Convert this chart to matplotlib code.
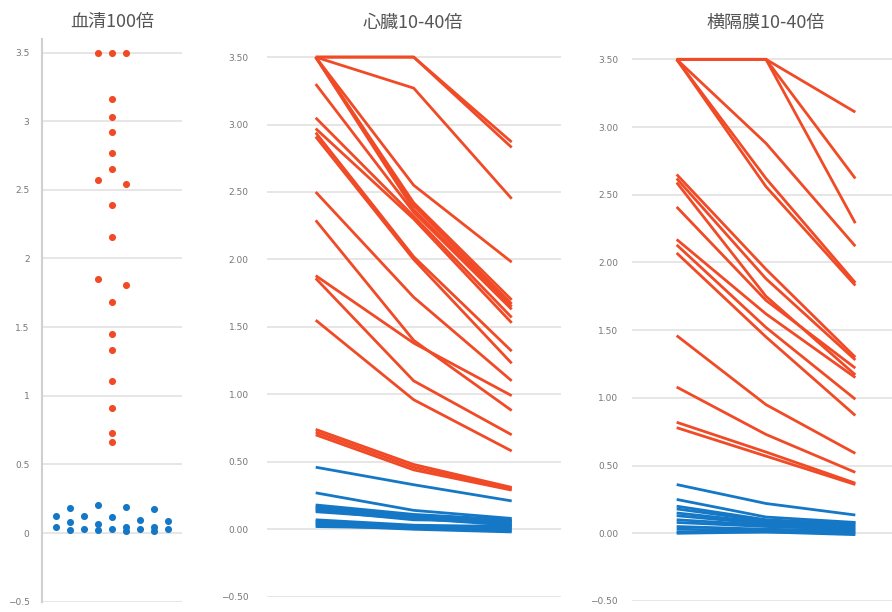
import matplotlib.pyplot as plt

plt.rcParams['font.family'] = ['Noto Sans CJK JP', 'DejaVu Sans']

RED = '#f04a26'
BLUE = '#1578c6'
GRID = '#e4e4e4'

titles = ['血清100倍', '心臓10-40倍', '横隔膜10-40倍']

# serum: values with swarm column (-4..4)
serum_red = [3.5, 3.5, 3.5, 3.16, 3.03, 2.92, 2.77, 2.65, 2.57, 2.54, 2.39, 2.16,
             1.85, 1.81, 1.68, 1.45, 1.33, 1.11, 0.91, 0.73, 0.66]
serum_red_col = [-1, 0, 1, 0, 0, 0, 0, 0, -1, 1, 0, 0,
                 -1, 1, 0, 0, 0, 0, 0, 0, 0]
serum_blue = [0.124, 0.042, 0.18, 0.08, 0.02, 0.124, 0.03, 0.205, 0.068, 0.02,
              0.117, 0.027, 0.19, 0.046, 0.015, 0.095, 0.027, 0.173, 0.046, 0.015,
              0.088, 0.027]
serum_blue_col = [-4, -4, -3, -3, -3, -2, -2, -1, -1, -1,
                  0, 0, 1, 1, 1, 2, 2, 3, 3, 3,
                  4, 4]

# heart: 10x, 20x, 40x
heart_red = [
    [3.50, 3.50, 2.87], [3.50, 3.50, 2.83], [3.50, 3.27, 2.45], [3.50, 2.55, 1.98],
    [3.50, 2.42, 1.70], [3.50, 2.40, 1.67], [3.50, 2.37, 1.65], [3.30, 2.35, 1.63],
    [3.05, 2.32, 1.57], [2.97, 2.30, 1.53], [2.94, 2.02, 1.32], [2.91, 2.00, 1.23],
    [2.50, 1.72, 1.10], [2.29, 1.40, 0.88], [1.88, 1.38, 0.99], [1.86, 1.10, 0.70],
    [1.55, 0.96, 0.58], [0.74, 0.48, 0.31], [0.72, 0.46, 0.30], [0.70, 0.44, 0.29],
]
heart_blue = [
    [0.46, 0.33, 0.21], [0.27, 0.14, 0.08], [0.18, 0.11, 0.07], [0.17, 0.10, 0.06],
    [0.16, 0.09, 0.05], [0.15, 0.08, 0.04], [0.14, 0.07, 0.06], [0.13, 0.08, 0.03],
    [0.07, 0.03, 0.02], [0.06, 0.02, 0.00], [0.05, 0.01, -0.01], [0.04, 0.02, 0.01],
    [0.03, 0.00, -0.02], [0.02, 0.01, 0.03],
]

# diaphragm: 10x, 20x, 40x
diaph_red = [
    [3.50, 3.50, 3.11], [3.50, 3.50, 2.62], [3.50, 3.50, 2.29], [3.50, 2.88, 2.12],
    [3.50, 2.62, 1.85], [3.50, 2.56, 1.83], [2.65, 1.95, 1.30], [2.62, 1.88, 1.28],
    [2.59, 1.75, 1.17], [2.41, 1.72, 1.22], [2.17, 1.62, 1.15], [2.13, 1.52, 0.99],
    [2.07, 1.45, 0.87], [1.46, 0.95, 0.59], [1.08, 0.73, 0.45], [0.82, 0.60, 0.37],
    [0.78, 0.57, 0.36],
]
diaph_blue = [
    [0.36, 0.22, 0.135], [0.25, 0.12, 0.08], [0.20, 0.10, 0.07], [0.18, 0.09, 0.06],
    [0.15, 0.08, 0.05], [0.13, 0.07, 0.08], [0.10, 0.06, 0.04], [0.08, 0.05, 0.03],
    [0.05, 0.03, 0.02], [0.03, 0.02, 0.01], [0.01, 0.01, 0.00], [0.00, 0.01, -0.01],
]

W, H = 892, 612
fig = plt.figure(figsize=(W / 100, H / 100), dpi=100)


def px_axes(left, top, right, bottom):
    return fig.add_axes([left / W, 1 - bottom / H, (right - left) / W, (bottom - top) / H])


def style(ax, fmt, pad):
    ax.set_ylim(-0.5, 3.6)
    ticks = [-0.5 + 0.5 * i for i in range(9)]
    ax.set_yticks(ticks)
    ax.set_yticklabels([fmt(t) for t in ticks], fontsize=6.5, color='#777777',
                       family='DejaVu Sans')
    ax.tick_params(axis='y', length=0, pad=pad)
    ax.set_xticks([])
    ax.grid(axis='y', color=GRID, linewidth=1.3)
    ax.set_axisbelow(True)
    for s in ax.spines.values():
        s.set_visible(False)


def fmt_short(v):
    s = f'{v:g}'
    return s.replace('-', '\u2212')


def fmt_long(v):
    return f'{v:.2f}'.replace('-', '\u2212')


# serum dots
ax1 = px_axes(42, 38.8, 182, 601.7)
style(ax1, fmt_short, 9)
ax1.spines['left'].set_visible(True)
ax1.spines['left'].set_color('#d0d0d0')
ax1.spines['left'].set_linewidth(1.5)
ax1.set_xlim(-5, 5)
ax1.scatter(serum_blue_col, serum_blue, s=26, color=BLUE, linewidths=0, zorder=3)
ax1.scatter(serum_red_col, serum_red, s=26, color=RED, linewidths=0, zorder=3)

# heart lines
ax2 = px_axes(266.7, 43.6, 560.7, 596.7)
style(ax2, fmt_long, 13)
ax2.set_xlim(-0.5, 2.5)
for row in heart_blue:
    ax2.plot([0, 1, 2], row, color=BLUE, lw=2.0, solid_capstyle='butt')
for row in heart_red:
    ax2.plot([0, 1, 2], row, color=RED, lw=2.0, solid_capstyle='butt')

# diaphragm lines
ax3 = px_axes(632, 45.8, 900, 601)
style(ax3, fmt_long, 10)
ax3.set_xlim(-0.5, 2.5)
for row in diaph_blue:
    ax3.plot([0, 1, 2], row, color=BLUE, lw=2.0, solid_capstyle='butt')
for row in diaph_red:
    ax3.plot([0, 1, 2], row, color=RED, lw=2.0, solid_capstyle='butt')

for t, (x, y) in zip(titles, [(112, 22), (413, 23), (766, 23)]):
    fig.text(x / W, 1 - y / H, t, ha='center', va='center', fontsize=13, color='#555555')

fig.savefig('out.png', dpi=100)
